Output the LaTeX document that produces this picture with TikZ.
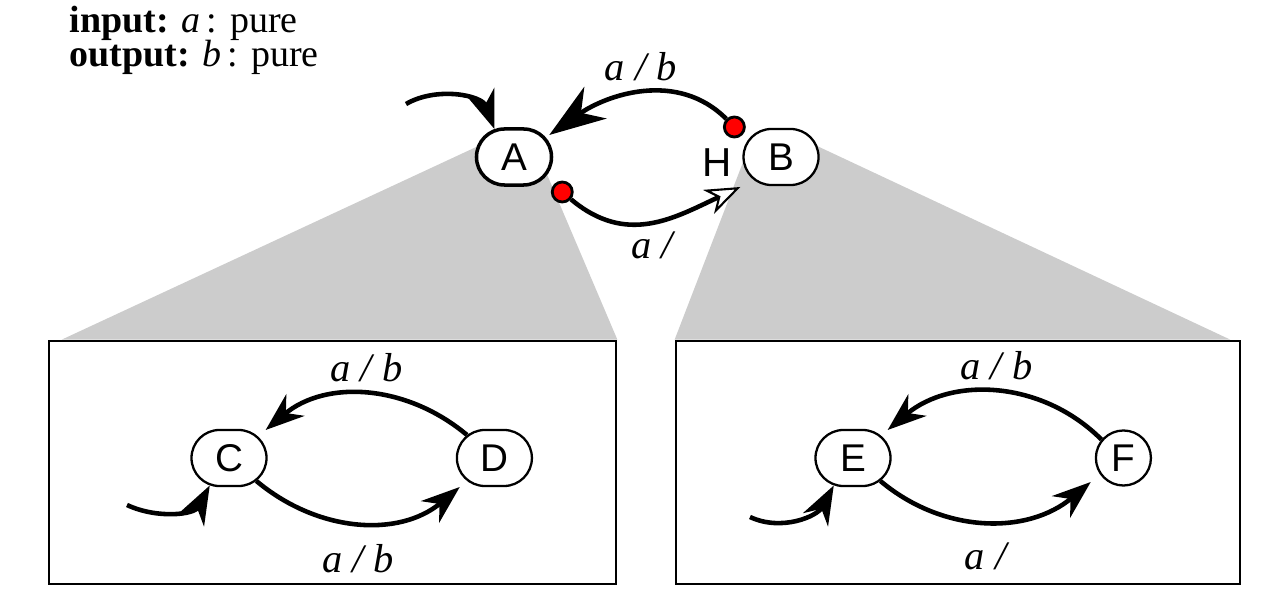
\documentclass[tikz,border=0pt]{standalone}
\usepackage{fontspec}
\setmainfont{Liberation Serif}
\setsansfont{Liberation Sans}
\usetikzlibrary{arrows.meta, positioning, shapes.misc, calc, backgrounds}
\tikzset{
  stbox/.style={rounded rectangle, draw, line width=#1, fill=white,
                minimum width=0.82cm, minimum height=0.56cm, inner sep=1pt,
                font=\sffamily\fontsize{11}{12}\selectfont},
  stbox/.default=0.65pt,
  fstate/.style={circle, draw, line width=0.65pt, fill=white,
                 minimum size=0.55cm, inner sep=1pt,
                 font=\sffamily\fontsize{11}{12}\selectfont},
  zoombox/.style={rectangle, draw, line width=0.7pt, fill=white,
                  minimum height=2.43cm},
  cone/.style={fill=black!20},
  hdot/.style={circle, draw, fill=red, line width=0.8pt,
               minimum size=0.2cm, inner sep=0pt},
  hlbl/.style={font=\sffamily\fontsize{11.5}{12}\selectfont, inner sep=0pt},
  lbl/.style={font=\fontsize{11.5}{13}\selectfont\itshape, inner sep=1pt},
  iface/.style={anchor=base west, inner sep=0pt,
                font=\fontsize{10.8}{12}\selectfont},
  arr/.style={-{Stealth[length=11pt, width=8pt, inset=3.5pt]}, line width=1.3pt},
  bigarr/.style={-{Stealth[length=16pt, width=11pt, inset=5pt]}, line width=1.3pt},
  openarr/.style={-{Stealth[length=10pt, width=7.5pt, inset=3pt, fill=white, line width=0.6pt]},
                  line width=1.3pt},
}
\begin{document}
\begin{tikzpicture}[x=0.01cm, y=0.01cm]
  \useasboundingbox (0,0) rectangle (1281,612);

  \node[iface] (inp) at (69,579) {\textbf{input:} \textit{a}\,: pure};
  \node[iface] (outp) at (69,545) {\textbf{output:} \textit{b}\,: pure};

  \node[zoombox, minimum width=5.67cm] (lbox) at (332.5,149.5) {};
  \node[zoombox, minimum width=5.64cm] (rbox) at (958,149.5) {};

  \node[stbox=1pt] (A) at (514,455) {A};
  \node[stbox, right=1.89cm of A] (B) {B};

  \begin{scope}[on background layer]
    \fill[cone] ($(lbox.north west)+(14,0)$) -- ($(A.center)+(-12,22)$)
      -- ($(A.center)+(32,-15)$) -- (lbox.north east) -- cycle;
    \fill[cone] (rbox.north west) -- ($(B.center)+(-36,0)$)
      -- ($(B.center)+(19,19)$) -- ($(rbox.north east)+(-11,0)$) -- cycle;
  \end{scope}

  \node[hdot] (h1) at ($(B.west)+(-8,30)$) {};
  \node[hdot] (h2) at ($(A.east)+(9,-35)$) {};
  \node[hlbl] (hist) at ($(B.west)+(-25,-6)$) {H};

  \coordinate (a0) at (406,508);
  \draw[arr] (a0) to[out=30,in=110] (A.125);
  \draw[bigarr] (h1) to[out=135,in=35] node[lbl, above=2pt] (l1) {a / b}
    ($(A.east)+(-4,22)$);
  \draw[openarr] (h2) to[out=-40,in=-155, looseness=1.1] node[lbl, below=1pt] (l2) {a /}
    ($(B.west)+(-2,-30)$);

  \node[stbox] (C) at (229,154) {C};
  \node[stbox, right=1.88cm of C] (D) {D};
  \coordinate (c0) at (127,107);
  \draw[arr] (c0) to[out=-25,in=-118] (C.235);
  \draw[arr] (D.140) to[out=140,in=40] node[lbl, above=2pt] (l3) {a / b}
    ($(C.east)+(-2,28)$);
  \draw[arr] (C.-40) to[out=-40,in=-140] node[lbl, below=4.5pt] (l4) {a / b}
    ($(D.west)+(4,-29)$);

  \node[stbox] (E) at (853,154) {E};
  \node[fstate, right=2.03cm of E] (F) {F};
  \coordinate (e0) at (750,95);
  \draw[arr] (e0) to[out=-25,in=-118] (E.235);
  \draw[arr] (F.140) to[out=135,in=40] node[lbl, above=2pt] (l5) {a / b}
    ($(E.east)+(-4,28)$);
  \draw[arr] (E.-40) to[out=-40,in=-140] node[lbl, below=4.5pt] (l6) {a /}
    ($(F.west)+(-4,-24)$);
\end{tikzpicture}
\end{document}
